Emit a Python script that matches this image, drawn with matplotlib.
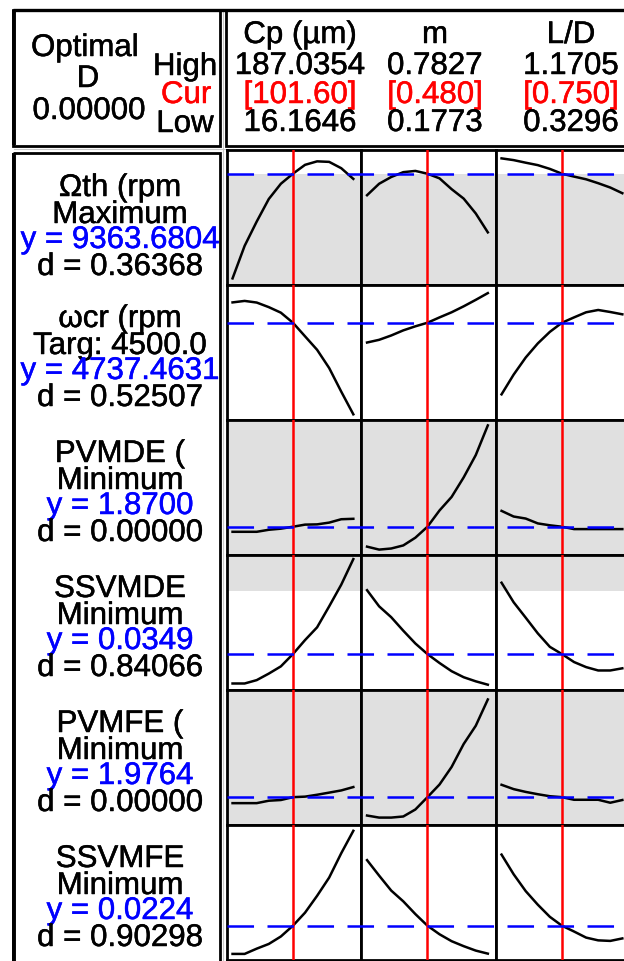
import numpy as np
import matplotlib
matplotlib.use('Agg')
import matplotlib.pyplot as plt
from matplotlib.patches import Rectangle
import matplotlib.patheffects as pe

plt.rcParams['font.family'] = ['Liberation Sans', 'DejaVu Sans']
plt.rcParams['lines.scale_dashes'] = False

# ---------------- data ----------------
factor_names = ['Cp (µm)', 'm', 'L/D']
factor_high = [187.0354, 0.7827, 1.1705]
factor_low = [16.1646, 0.1773, 0.3296]
factor_cur = [101.60, 0.480, 0.750]
factor_high_labels = ['187.0354', '0.7827', '1.1705']
factor_cur_labels = ['[101.60]', '[0.480]', '[0.750]']
factor_low_labels = ['16.1646', '0.1773', '0.3296']
optimal_D_label = '0.00000'

resp_names = ['Ωth (rpm', 'ωcr (rpm', 'PVMDE (', 'SSVMDE', 'PVMFE (', 'SSVMFE']
resp_goals = ['Maximum', 'Targ: 4500.0', 'Minimum', 'Minimum', 'Minimum', 'Minimum']
resp_y = [9363.6804, 4737.4631, 1.8700, 0.0349, 1.9764, 0.0224]
resp_y_labels = ['y = 9363.6804', 'y = 4737.4631', 'y = 1.8700',
                 'y = 0.0349', 'y = 1.9764', 'y = 0.0224']
resp_d_labels = ['d = 0.36368', 'd = 0.52507', 'd = 0.00000',
                 'd = 0.84066', 'd = 0.00000', 'd = 0.90298']

# response ranges shown in the panels
resp_ylim = [(4500, 10400), (2000, 5800), (1.2, 4.4),
             (0.02, 0.076), (1.3, 4.58), (0.01, 0.0588)]
# undesirable (grey) band per response
resp_grey = [(4500, 9363.68), None, (1.2, 4.4),
             (0.0612, 0.076), (1.3, 4.58), None]

# curves: response vs each factor (11 settings from Low to High)
th_cp = [4789, 6211, 7273, 8258, 8925, 9363.7, 9751, 9904, 9881, 9604, 9137]
th_m = [8424, 8925, 9220, 9432, 9486, 9363.7, 9161, 8689, 8276, 7627, 6801]
th_ld = [10034, 9958, 9845, 9739, 9574, 9363.7, 9238, 9120, 8949, 8760, 8512]

cr_cp = [5310, 5352, 5306, 5177, 5021, 4737.5, 4356, 3976, 3463, 2798, 2160]
cr_m = [4181, 4257, 4379, 4523, 4637, 4737.5, 4888, 5032, 5200, 5382, 5572]
cr_ld = [2722, 3277, 3759, 4155, 4481, 4737.5, 4888, 5032, 5097, 5040, 4975]

pde_cp = [1.750, 1.750, 1.750, 1.798, 1.824, 1.870, 1.920, 1.926, 1.968, 2.048, 2.058]
pde_m = [1.398, 1.328, 1.354, 1.427, 1.610, 1.870, 2.256, 2.576, 3.040, 3.568, 4.272]
pde_ld = [2.246, 2.112, 2.064, 1.949, 1.904, 1.870, 1.814, 1.814, 1.814, 1.814, 1.814]

sde_cp = [0.0227, 0.0227, 0.0241, 0.0268, 0.0298, 0.0349, 0.0407, 0.0460, 0.0547, 0.0637, 0.0743]
sde_m = [0.0614, 0.0547, 0.0502, 0.0446, 0.0393, 0.0349, 0.0312, 0.0278, 0.0253, 0.0236, 0.0222]
sde_ld = [0.0645, 0.0564, 0.0500, 0.0435, 0.0379, 0.0349, 0.0316, 0.0295, 0.0281, 0.0281, 0.0290]

pfe_cp = [1.831, 1.831, 1.831, 1.890, 1.907, 1.9764, 1.989, 2.035, 2.087, 2.140, 2.222]
pfe_m = [1.530, 1.480, 1.480, 1.507, 1.677, 1.9764, 2.284, 2.710, 3.268, 3.711, 4.350]
pfe_ld = [2.277, 2.172, 2.104, 2.048, 1.999, 1.9764, 1.913, 1.913, 1.913, 1.841, 1.907]

sfe_cp = [0.0122, 0.0122, 0.0141, 0.0158, 0.0185, 0.0224, 0.0271, 0.0332, 0.0398, 0.0486, 0.0567]
sfe_m = [0.0461, 0.0405, 0.0351, 0.0312, 0.0266, 0.0224, 0.0193, 0.0168, 0.0150, 0.0134, 0.0123]
sfe_ld = [0.0481, 0.0410, 0.0349, 0.0300, 0.0256, 0.0224, 0.0203, 0.0181, 0.0171, 0.0169, 0.0178]

curves = [[th_cp, th_m, th_ld], [cr_cp, cr_m, cr_ld], [pde_cp, pde_m, pde_ld],
          [sde_cp, sde_m, sde_ld], [pfe_cp, pfe_m, pfe_ld], [sfe_cp, sfe_m, sfe_ld]]

# ---------------- layout ----------------
W, H, DPI = 624, 962, 100
fig = plt.figure(figsize=(W / DPI, H / DPI), dpi=DPI)
fig.patch.set_facecolor('white')

GREY = '#e0e0e0'
FS = 22.5


def txt(ax, x, y, s, color='black'):
    ax.text(x, y, s, ha='center', va='baseline', fontsize=FS, color=color,
            path_effects=[pe.withStroke(linewidth=0.35, foreground=color)])


bg = fig.add_axes([0, 0, 1, 1])
bg.set_xlim(0, W)
bg.set_ylim(H, 0)
bg.axis('off')

# window separators
bg.plot([14, W], [150, 150], color='#c8c8c8', lw=0.8)
bg.plot([223, 223], [11, H], color='#c8c8c8', lw=0.8)
# boxes
bg.add_patch(Rectangle((13, 11), 207, 136, fill=False, ec='black', lw=2.0))
bg.add_patch(Rectangle((226, 11), 420, 136, fill=False, ec='black', lw=2.0))
bg.add_patch(Rectangle((13, 154), 207, 830, fill=False, ec='black', lw=2.0))
bg.plot([13.5, 13.5], [11, 146], color='black', lw=2.8, solid_capstyle='butt')
bg.plot([13.5, 13.5], [154, 970], color='black', lw=2.8, solid_capstyle='butt')
bg.plot([13, 640], [11, 11], color='black', lw=2.4, solid_capstyle='butt')

# top-left texts
txt(bg, 85, 57, 'Optimal')
txt(bg, 88, 88, 'D')
txt(bg, 89, 120, optimal_D_label)
txt(bg, 185, 76, 'High')
txt(bg, 186, 104, 'Cur', color='red')
txt(bg, 185, 133, 'Low')

col_txt_x = [300, 435, 571]
for c in range(3):
    txt(bg, col_txt_x[c], 44, factor_names[c])
    txt(bg, col_txt_x[c], 75, factor_high_labels[c])
    txt(bg, col_txt_x[c], 104, factor_cur_labels[c], color='red')
    txt(bg, col_txt_x[c], 132, factor_low_labels[c])

col_x = [226.5, 361.0, 495.5]
col_w = 134.5
row_top = 151.0
row_h = 135.0


def fx(px):
    return px / W


def fy(py):
    return 1 - py / H


for r in range(6):
    y0 = row_top + r * row_h
    off = 4 if r == 0 else 0
    base = [42, 69, 94, 121]
    txt(bg, 120, y0 + base[0] + off, resp_names[r])
    txt(bg, 120, y0 + base[1] + off, resp_goals[r])
    txt(bg, 120, y0 + base[2] + off, resp_y_labels[r], color='blue')
    txt(bg, 120, y0 + base[3] + off, resp_d_labels[r])

    lo, hi = resp_ylim[r]
    for c in range(3):
        ax = fig.add_axes([fx(col_x[c]), fy(y0 + row_h), col_w / W, row_h / H])
        R = factor_high[c] - factor_low[c]
        ax.set_xlim(factor_low[c] - 0.0501 * R, factor_high[c] + 0.0635 * R)
        ax.set_ylim(lo, hi)
        if resp_grey[r] is not None:
            ax.axhspan(resp_grey[r][0], resp_grey[r][1], color=GREY, lw=0, zorder=0)
        xs = np.linspace(factor_low[c], factor_high[c], len(curves[r][c]))
        ax.plot(xs, curves[r][c], color='black', lw=1.8, zorder=3)
        ax.axvline(factor_cur[c], color='red', lw=1.8, zorder=4)
        ax.set_xticks([])
        ax.set_yticks([])
        for s in ax.spines.values():
            s.set_linewidth(2.0)
            s.set_color('black')
    # dashed line across the row
    ov = fig.add_axes([fx(col_x[0]), fy(y0 + row_h), (3 * col_w) / W, row_h / H])
    ov.patch.set_visible(False)
    ov.axis('off')
    ov.set_xlim(0, 3 * col_w)
    ov.set_ylim(lo, hi)
    ov.plot([0, 3 * col_w], [resp_y[r], resp_y[r]], color='blue', lw=1.8,
            dashes=(19.1, 9.7), zorder=5)

fig.savefig('out.png', dpi=DPI)
